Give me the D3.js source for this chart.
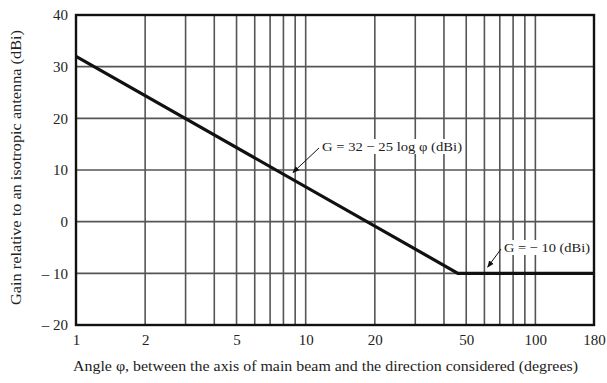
<!DOCTYPE html>
<html>
<head>
<meta charset="utf-8">
<script src="https://cdn.jsdelivr.net/npm/d3@7"></script>
<style>
  body { margin: 0; background: #fff; }
  text { font-family: "Liberation Serif", "DejaVu Serif", serif; fill: #222; }
</style>
</head>
<body>
<div id="chart"></div>
<script>
// gain envelope: break points (angle in degrees, gain in dBi)
const envelopeAngles = [1, 46, 180];
const envelopeGains = [32, -10, -10];

const xGrid = [1, 2, 3, 4, 5, 6, 7, 8, 9, 10, 20, 30, 40, 50, 60, 70, 80, 90, 100, 180];
const xTickLabels = [1, 2, 5, 10, 20, 50, 100, 180];
const yTicks = [-20, -10, 0, 10, 20, 30, 40];

const notes = [
  { text: 'G = 32 − 25 log φ (dBi)', angle: 8.8, gain: 9.5, tx: 322, ty: 151, len: 140 },
  { text: 'G = − 10 (dBi)', angle: 62, gain: -8.8, tx: 504, ty: 252, len: 86 },
];

const width = 607;
const height = 383;
const margin = { top: 15, right: 13, bottom: 58, left: 76 };

const x = d3.scaleLog()
  .domain([1, 180])
  .range([margin.left, width - margin.right]);

const y = d3.scaleLinear()
  .domain([-20, 40])
  .range([height - margin.bottom, margin.top]);

const svg = d3.select('#chart')
  .append('svg')
  .attr('width', width)
  .attr('height', height);

// grid
svg.append('g')
  .selectAll('line')
  .data(xGrid)
  .join('line')
  .attr('x1', (d) => x(d))
  .attr('x2', (d) => x(d))
  .attr('y1', y(-20))
  .attr('y2', y(40))
  .attr('stroke', '#555')
  .attr('stroke-width', 1.6);

svg.append('g')
  .selectAll('line')
  .data(yTicks)
  .join('line')
  .attr('x1', x(1))
  .attr('x2', x(180))
  .attr('y1', (d) => y(d))
  .attr('y2', (d) => y(d))
  .attr('stroke', '#555')
  .attr('stroke-width', 1.6);

// frame
svg.append('rect')
  .attr('x', x(1))
  .attr('y', y(40))
  .attr('width', x(180) - x(1))
  .attr('height', y(-20) - y(40))
  .attr('fill', 'none')
  .attr('stroke', '#111')
  .attr('stroke-width', 2.4);

// axes (labels only)
const xAxis = svg.append('g')
  .attr('transform', `translate(0, ${y(-20)})`)
  .call(d3.axisBottom(x)
    .tickValues(xTickLabels)
    .tickFormat(d3.format('d'))
    .tickSize(0)
    .tickPadding(9));
xAxis.select('.domain').remove();
xAxis.selectAll('text')
  .style('font-size', '15px')
  .style('font-family', '"Liberation Serif", serif')
  .attr('fill', '#222');

const yAxis = svg.append('g')
  .attr('transform', `translate(${x(1)}, 0)`)
  .call(d3.axisLeft(y)
    .tickValues(yTicks)
    .tickFormat((d) => (d < 0 ? '– ' + Math.abs(d) : d))
    .tickSize(0)
    .tickPadding(8));
yAxis.select('.domain').remove();
yAxis.selectAll('text')
  .style('font-size', '15px')
  .style('font-family', '"Liberation Serif", serif')
  .attr('fill', '#222');

// envelope
const line = d3.line()
  .x((d) => x(d[0]))
  .y((d) => y(d[1]));

svg.append('path')
  .datum(d3.zip(envelopeAngles, envelopeGains))
  .attr('d', line)
  .attr('fill', 'none')
  .attr('stroke', '#111')
  .attr('stroke-width', 3.2);

// annotations
svg.append('defs')
  .append('marker')
  .attr('id', 'head')
  .attr('viewBox', '0 0 10 10')
  .attr('refX', 9)
  .attr('refY', 5)
  .attr('markerWidth', 7)
  .attr('markerHeight', 7)
  .attr('orient', 'auto')
  .append('path')
  .attr('d', 'M0,1 L10,5 L0,9 Z')
  .attr('fill', '#111');

notes.forEach((n) => {
  const t = svg.append('text')
    .attr('x', n.tx)
    .attr('y', n.ty)
    .attr('textLength', n.len)
    .attr('lengthAdjust', 'spacingAndGlyphs')
    .style('font-size', '13.5px')
    .text(n.text);
  const b = t.node().getBBox();
  svg.insert('rect', () => t.node())
    .attr('x', b.x - 2)
    .attr('y', b.y)
    .attr('width', b.width + 4)
    .attr('height', b.height)
    .attr('fill', '#fff');
  svg.append('line')
    .attr('x1', n.tx - 3)
    .attr('y1', n.ty - 3)
    .attr('x2', x(n.angle))
    .attr('y2', y(n.gain))
    .attr('stroke', '#111')
    .attr('stroke-width', 1)
    .attr('marker-end', 'url(#head)');
});

// axis titles
svg.append('text')
  .attr('x', 73)
  .attr('y', 371)
  .attr('textLength', 505)
  .attr('lengthAdjust', 'spacingAndGlyphs')
  .style('font-size', '14px')
  .text('Angle φ, between the axis of main beam and the direction considered (degrees)');

svg.append('text')
  .attr('transform', 'translate(21, 305) rotate(-90)')
  .attr('textLength', 275)
  .attr('lengthAdjust', 'spacingAndGlyphs')
  .style('font-size', '14px')
  .text('Gain relative to an isotropic antenna (dBi)');
</script>
</body>
</html>
